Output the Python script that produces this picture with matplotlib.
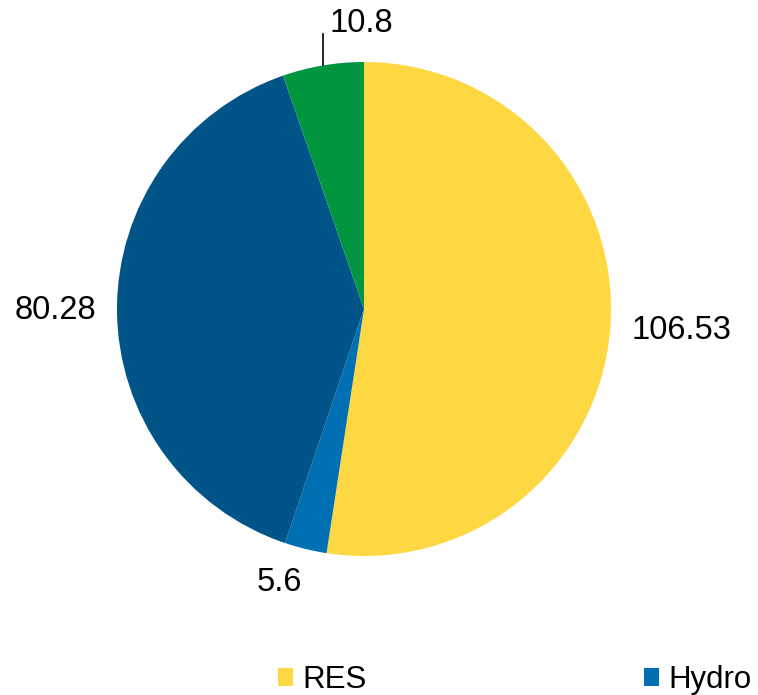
import numpy as np
import matplotlib
matplotlib.use("Agg")
import matplotlib.pyplot as plt

plt.rcParams['font.family'] = ['Liberation Sans', 'DejaVu Sans']

# Energy mix values
labels = ["RES", "Hydro", "Thermal", "Other"]
values = [106.53, 5.6, 80.28, 10.8]
value_text = ["106.53", "5.6", "80.28", "10.8"]
colors = ["#FDD843", "#0070B3", "#005487", "#00963F"]
legend_labels = ["RES", "Hydro"]

FS = 23.5
LFS = 22.5
W, H = 758, 695
fig = plt.figure(figsize=(W / 100, H / 100), dpi=100)

# Pie area: centre (364, 309) px, radius 247 px
cx, cy, r = 364, 309, 247
ax = fig.add_axes([(cx - r) / W, (H - cy - r) / H, 2 * r / W, 2 * r / H])
wedges, _ = ax.pie(values, colors=colors, startangle=90, counterclock=False,
                   radius=1.0, wedgeprops=dict(linewidth=0))
ax.set_xlim(-1, 1)
ax.set_ylim(-1, 1)
ax.set_aspect("equal")
ax.set_clip_on(False)

# Value labels around the pie
dist = [1.29, 1.16, 1.25, None]
ang_off = [0.5, -3.5, 0.0, 0.0]
for w, txt, d, off in zip(wedges, value_text, dist, ang_off):
    mid = np.deg2rad((w.theta1 + w.theta2) / 2 + off)
    if d is None:
        x0, y0 = np.cos(mid), np.sin(mid)
        ax.plot([x0, x0], [y0, 1.115], color="black", lw=1.2, clip_on=False)
        ax.text(x0 + 0.025, 1.155, txt, ha="left", va="center",
                fontsize=FS, clip_on=False)
    else:
        ax.text(d * np.cos(mid), d * np.sin(mid), txt, ha="center",
                va="center", fontsize=FS, clip_on=False)

# Legend along the bottom edge
fig.legend(wedges[:2], legend_labels, loc="center left",
           bbox_to_anchor=(278 / W, (H - 680) / H), ncol=2, frameon=False,
           fontsize=LFS, handlelength=0.48, handleheight=0.48,
           handletextpad=0.29, columnspacing=8.9, borderaxespad=0,
           borderpad=0)

fig.savefig("out.png", dpi=100)
